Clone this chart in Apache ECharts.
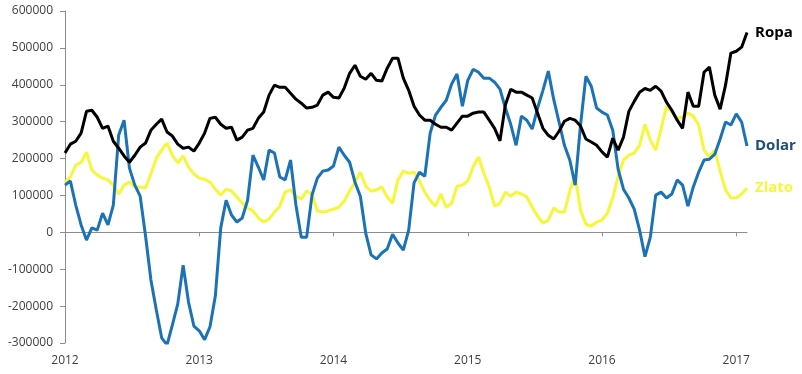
<!DOCTYPE html>
<html>
<head>
<meta charset="utf-8">
<script src="https://cdn.jsdelivr.net/npm/echarts@6/dist/echarts.min.js"></script>
<style>html,body{margin:0;padding:0;background:#fff}#c{width:802px;height:374px}</style>
</head>
<body>
<div id="c"></div>
<script>
// time in decimal years (about every two weeks)
var years = [
2012.00,2012.04,2012.08,2012.12,2012.16,2012.20,2012.24,2012.28,2012.32,2012.36,
2012.40,2012.44,2012.48,2012.52,2012.56,2012.60,2012.64,2012.68,2012.72,2012.76,
2012.80,2012.84,2012.88,2012.92,2012.96,2013.00,2013.04,2013.08,2013.12,2013.16,
2013.20,2013.24,2013.28,2013.32,2013.36,2013.40,2013.44,2013.48,2013.52,2013.56,
2013.60,2013.64,2013.68,2013.72,2013.76,2013.80,2013.84,2013.88,2013.92,2013.96,
2014.00,2014.04,2014.08,2014.12,2014.16,2014.20,2014.24,2014.28,2014.32,2014.36,
2014.40,2014.44,2014.48,2014.52,2014.56,2014.60,2014.64,2014.68,2014.72,2014.76,
2014.80,2014.84,2014.88,2014.92,2014.96,2015.00,2015.04,2015.08,2015.12,2015.16,
2015.20,2015.24,2015.28,2015.32,2015.36,2015.40,2015.44,2015.48,2015.52,2015.56,
2015.60,2015.64,2015.68,2015.72,2015.76,2015.80,2015.84,2015.88,2015.92,2015.96,
2016.00,2016.04,2016.08,2016.12,2016.16,2016.20,2016.24,2016.28,2016.32,2016.36,
2016.40,2016.44,2016.48,2016.52,2016.56,2016.60,2016.64,2016.68,2016.72,2016.76,
2016.80,2016.84,2016.88,2016.92,2016.96,2017.00,2017.04,2017.08
];
var ropa = [
215000,239000,247000,269000,328000,331000,312000,282000,288000,247000,
228000,207000,190000,209000,231000,242000,277000,293000,307000,272000,
261000,239000,228000,231000,220000,242000,269000,309000,312000,293000,
282000,285000,250000,258000,277000,282000,309000,326000,372000,399000,
393000,393000,377000,361000,350000,337000,339000,345000,372000,380000,
366000,364000,391000,431000,453000,423000,415000,431000,412000,410000,
445000,472000,472000,418000,385000,342000,318000,304000,304000,293000,
285000,285000,277000,296000,315000,315000,323000,326000,326000,304000,
282000,248000,345000,388000,380000,380000,372000,364000,323000,282000,
263000,253000,274000,301000,309000,304000,288000,253000,245000,236000,
218000,204000,255000,223000,258000,328000,355000,380000,390000,385000,
396000,383000,353000,331000,304000,282000,380000,342000,342000,434000,
448000,372000,334000,399000,486000,491000,502000,542000
];
var dolar = [
128000,139000,74000,20000,-21000,12000,6000,52000,20000,74000,
264000,304000,174000,128000,98000,-10000,-129000,-210000,-286000,-305000,
-251000,-194000,-89000,-189000,-254000,-267000,-291000,-256000,-172000,12000,
87000,47000,28000,39000,87000,209000,177000,142000,223000,215000,
150000,142000,196000,74000,-13000,-13000,101000,147000,166000,169000,
180000,231000,209000,190000,136000,98000,-2000,-61000,-72000,-56000,
-45000,-5000,-29000,-48000,6000,134000,163000,152000,269000,318000,
339000,358000,402000,429000,342000,412000,442000,434000,418000,418000,
407000,388000,337000,293000,236000,315000,304000,280000,337000,385000,
437000,361000,299000,236000,196000,128000,291000,423000,396000,337000,
326000,318000,277000,171000,117000,93000,63000,6000,-66000,-13000,
101000,109000,93000,104000,142000,128000,71000,123000,163000,196000,
198000,212000,253000,299000,291000,321000,299000,234000
];
var zlato = [
136000,150000,182000,190000,217000,169000,155000,147000,142000,128000,
104000,128000,136000,123000,123000,120000,158000,201000,223000,242000,
209000,188000,207000,177000,158000,147000,144000,136000,117000,101000,
117000,112000,96000,79000,66000,58000,39000,28000,36000,55000,
71000,109000,115000,98000,90000,112000,104000,58000,55000,58000,
63000,68000,85000,112000,136000,163000,125000,112000,115000,123000,
96000,79000,142000,166000,160000,163000,139000,109000,87000,71000,
104000,68000,79000,125000,128000,139000,177000,204000,160000,123000,
71000,79000,109000,98000,109000,104000,96000,68000,44000,25000,
33000,66000,55000,55000,112000,155000,60000,22000,17000,28000,
33000,52000,93000,152000,196000,209000,215000,236000,293000,250000,
223000,280000,342000,326000,310000,312000,323000,315000,291000,223000,
204000,223000,166000,115000,93000,93000,104000,120000
];
var yearTicks = [2012, 2013, 2014, 2015, 2016, 2017];
var names = ['Ropa', 'Dolar', 'Zlato'];

function pairs(vals) {
  return vals.map(function (v, i) { return [years[i], v]; });
}

var chart = echarts.init(document.getElementById('c'), null, {renderer: 'canvas'});
var FONT = '"Open Sans", "DejaVu Sans", sans-serif';
var lineColors = ['#000000', '#1b72b4', '#f7f73a'];
var labelColors = ['#000000', '#1f4e79', '#f7f73a'];
var seriesVals = [ropa, dolar, zlato];

chart.setOption({
  animation: false,
  backgroundColor: '#ffffff',
  grid: {left: 65, right: 55, top: 11, bottom: 31, containLabel: false},
  xAxis: [{
    type: 'value', min: 2012, max: 2017.08, interval: 1,
    position: 'bottom',
    axisLine: {show: false, onZero: false},
    axisTick: {show: false},
    splitLine: {show: false},
    axisLabel: {
      show: true, margin: 12, color: '#404040', fontSize: 12, fontFamily: FONT,
      customValues: yearTicks,
      formatter: function (v) { return String(v); }
    }
  }, {
    type: 'value', min: 2012, max: 2017.08, interval: 1,
    position: 'bottom',
    axisLine: {show: true, onZero: true, lineStyle: {color: '#8c8c8c', width: 1}},
    axisTick: {show: true, length: 4, customValues: yearTicks, lineStyle: {color: '#8c8c8c'}},
    axisLabel: {show: false},
    splitLine: {show: false}
  }],
  yAxis: {
    type: 'value', min: -300000, max: 600000, interval: 100000,
    axisLine: {show: true, lineStyle: {color: '#8c8c8c', width: 1}},
    axisTick: {show: true, length: 5, lineStyle: {color: '#8c8c8c'}},
    splitLine: {show: false},
    axisLabel: {
      margin: 12, color: '#404040', fontSize: 12, fontFamily: FONT,
      formatter: function (v) { return String(v); }
    }
  },
  series: names.map(function (n, i) {
    return {
      name: n, type: 'line', xAxisIndex: 0,
      data: pairs(seriesVals[i]),
      symbol: 'none', clip: true, z: 3 - i,
      lineStyle: {color: lineColors[i], width: 3},
      itemStyle: {color: lineColors[i]},
      endLabel: {
        show: true, formatter: '{a}', distance: 8,
        color: labelColors[i], fontWeight: 'bold', fontSize: 15, fontFamily: FONT
      }
    };
  })
});
</script>
</body>
</html>
